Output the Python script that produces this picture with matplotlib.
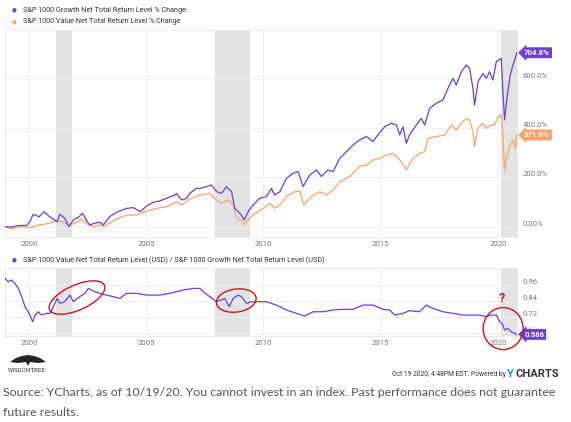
import matplotlib
matplotlib.use("agg")

import matplotlib.pyplot as plt
from matplotlib.patches import Ellipse, Polygon
from matplotlib.transforms import IdentityTransform, blended_transform_factory

plt.rcParams["font.family"] = ["Roboto", "DejaVu Sans"]

# Growth index, % change since Jan 1999
g_years = [1998.98, 1999.28, 1999.49, 1999.74, 1999.9, 2000.04, 2000.18, 2000.44, 2000.65,
           2000.87, 2000.97, 2001.2, 2001.32, 2001.53, 2001.7, 2001.92, 2002.1, 2002.29,
           2002.49, 2002.6, 2002.81, 2003.03, 2003.17, 2003.45, 2003.8, 2004.16, 2004.45,
           2004.73, 2005.09, 2005.37, 2005.58, 2005.87, 2006.22, 2006.29, 2006.5, 2006.72,
           2006.86, 2007.14, 2007.29, 2007.57, 2007.78, 2008.0, 2008.21, 2008.42, 2008.64,
           2008.78, 2008.92, 2009.06, 2009.18, 2009.35, 2009.56, 2009.84, 2010.13, 2010.34,
           2010.48, 2010.7, 2010.98, 2011.26, 2011.48, 2011.69, 2011.97, 2012.26, 2012.47,
           2012.75, 2012.97, 2013.25, 2013.54, 2013.82, 2014.1, 2014.39, 2014.67, 2014.88,
           2015.17, 2015.45, 2015.67, 2015.81, 2015.95, 2016.09, 2016.23, 2016.52, 2016.73,
           2016.87, 2017.09, 2017.37, 2017.65, 2017.87, 2018.08, 2018.22, 2018.44, 2018.65,
           2018.79, 2018.93, 2019.0, 2019.15, 2019.36, 2019.5, 2019.64, 2019.78, 2019.93,
           2020.14, 2020.21, 2020.28, 2020.38, 2020.52, 2020.64, 2020.71, 2020.8]
g_vals = [0, -2, 4, 5, 4, 20, 50, 40, 61,
          41, 35, 20, 50, 34, 0, 30, 37, 54,
          20, 7, 14, 18, 7, 41, 61, 74, 77,
          61, 88, 101, 104, 115, 128, 135, 108, 115,
          135, 155, 155, 162, 169, 142, 135, 162, 142,
          74, 61, 47, 27, 61, 88, 115, 122, 155,
          128, 142, 196, 216, 223, 162, 209, 230, 203,
          230, 223, 277, 304, 331, 351, 365, 345, 372,
          405, 419, 412, 372, 405, 338, 372, 412, 439,
          412, 480, 500, 513, 561, 601, 574, 628, 655,
          642, 561, 493, 588, 621, 601, 628, 594, 669,
          682, 547, 432, 520, 615, 655, 676, 704.8]

# Value index, % change since Jan 1999
v_years = [1998.98, 1999.28, 1999.6, 2000.0, 2000.47, 2000.9, 2001.2, 2001.46, 2001.7,
           2002.03, 2002.29, 2002.53, 2002.74, 2003.03, 2003.2, 2003.52, 2003.88, 2004.23,
           2004.59, 2005.01, 2005.44, 2005.87, 2006.29, 2006.5, 2006.93, 2007.29, 2007.71,
           2008.0, 2008.21, 2008.49, 2008.71, 2008.85, 2009.06, 2009.18, 2009.35, 2009.63,
           2009.99, 2010.27, 2010.48, 2010.7, 2010.98, 2011.33, 2011.55, 2011.72, 2012.04,
           2012.4, 2012.68, 2012.97, 2013.25, 2013.68, 2014.1, 2014.39, 2014.67, 2014.96,
           2015.24, 2015.52, 2015.74, 2015.88, 2016.09, 2016.38, 2016.66, 2016.87, 2017.02,
           2017.37, 2017.73, 2018.01, 2018.22, 2018.44, 2018.65, 2018.79, 2018.93, 2019.0,
           2019.15, 2019.36, 2019.5, 2019.71, 2019.86, 2020.0, 2020.14, 2020.21, 2020.28,
           2020.38, 2020.52, 2020.67, 2020.74, 2020.8]
v_vals = [0, -9, 0, -3, 7, 14, 23, 20, 3,
          18, 31, 7, 0, 7, 0, 20, 37, 47,
          47, 64, 74, 81, 101, 88, 115, 128, 135,
          108, 95, 108, 88, 34, 27, 7, 27, 54,
          74, 95, 74, 88, 122, 142, 142, 88, 122,
          142, 128, 149, 182, 203, 245, 250, 270, 277,
          290, 297, 277, 263, 230, 277, 297, 304, 358,
          365, 372, 412, 392, 419, 439, 432, 385, 324,
          399, 419, 399, 412, 412, 446, 453, 372, 230,
          284, 331, 351, 317, 371.6]

# Value / Growth total return level ratio
r_years = [1998.98, 1999.12, 1999.26, 1999.4, 1999.55, 1999.69, 1999.83, 1999.97, 2000.07,
           2000.16, 2000.26, 2000.4, 2000.54, 2000.75, 2000.9, 2001.04, 2001.21, 2001.32,
           2001.53, 2001.75, 2001.89, 2002.17, 2002.39, 2002.53, 2002.67, 2002.81, 2003.03,
           2003.31, 2003.59, 2003.88, 2004.16, 2004.59, 2005.01, 2005.58, 2006.01, 2006.58,
           2007.0, 2007.29, 2007.43, 2007.71, 2007.99, 2008.21, 2008.35, 2008.54, 2008.71,
           2008.92, 2009.06, 2009.28, 2009.49, 2009.7, 2010.13, 2010.55, 2010.98, 2011.4,
           2011.76, 2012.12, 2012.54, 2012.97, 2013.39, 2013.82, 2014.25, 2014.67, 2015.1,
           2015.38, 2015.6, 2015.95, 2016.23, 2016.66, 2016.94, 2017.23, 2017.65, 2018.08,
           2018.51, 2018.93, 2019.22, 2019.5, 2019.71, 2019.93, 2020.07, 2020.18, 2020.28,
           2020.42, 2020.56, 2020.71, 2020.8]
r_vals = [1.006, 0.981, 0.994, 0.969, 0.931, 0.869, 0.794, 0.756, 0.719,
          0.681, 0.731, 0.756, 0.731, 0.744, 0.744, 0.794, 0.856, 0.819,
          0.831, 0.881, 0.831, 0.869, 0.894, 0.931, 0.919, 0.906, 0.894,
          0.881, 0.869, 0.856, 0.894, 0.894, 0.881, 0.881, 0.894, 0.919,
          0.931, 0.931, 0.906, 0.869, 0.831, 0.844, 0.856, 0.794, 0.856,
          0.881, 0.869, 0.819, 0.831, 0.831, 0.831, 0.806, 0.769, 0.744,
          0.724, 0.756, 0.756, 0.769, 0.774, 0.774, 0.806, 0.806, 0.774,
          0.769, 0.731, 0.744, 0.764, 0.756, 0.806, 0.781, 0.756, 0.744,
          0.731, 0.731, 0.731, 0.719, 0.731, 0.731, 0.681, 0.669, 0.619,
          0.631, 0.606, 0.594, 0.586]

recessions = [(2001.15, 2001.82), (2007.93, 2009.42), (2020.12, 2020.81)]
year_ticks = [2000, 2005, 2010, 2015, 2020]
top_ticks = [0, 200, 400, 600]
top_labels = ["0.00%", "200.0%", "400.0%", "600.0%"]
bot_ticks = [0.60, 0.72, 0.84, 0.96]
bot_labels = ["0.60", "0.72", "0.84", "0.96"]

PURPLE = "#6a3fd3"
ORANGE = "#ffa068"
SHADE = "#e2e2e2"
GRID = "#eeeeee"
TICK = "#777777"

W, H = 571, 422
fig = plt.figure(figsize=(W / 100, H / 100), dpi=100)


def px_axes(left, top, right, bottom):
    return fig.add_axes([left / W, 1 - bottom / H, (right - left) / W, (bottom - top) / H])


def style(ax, ticks, labels):
    ax.set_xlim(1998.98, 2020.81)
    ax.set_xticks(year_ticks)
    ax.set_xticklabels([str(y) for y in year_ticks])
    ax.set_yticks(ticks)
    ax.set_yticklabels(labels)
    ax.yaxis.tick_right()
    ax.tick_params(length=0, labelsize=5.6, colors=TICK, pad=3)
    ax.tick_params(axis="y", pad=4)
    for lab in ax.get_yticklabels():
        lab.set_verticalalignment("bottom")
    ax.grid(True, color=GRID, linewidth=0.6)
    ax.set_axisbelow(True)
    for s in ax.spines.values():
        s.set_color("#e8e8e8")
        s.set_linewidth(0.6)
    for a, b in recessions:
        ax.axvspan(a, b, color=SHADE, linewidth=0, zorder=0.5)


# Top panel: % change
ax1 = px_axes(5, 30, 517, 237)
ax1.plot(v_years, v_vals, color=ORANGE, linewidth=0.9, zorder=2)
ax1.plot(g_years, g_vals, color=PURPLE, linewidth=0.9, zorder=3)
ax1.set_ylim(-42, 797)
style(ax1, top_ticks, top_labels)

# Bottom panel: ratio
ax2 = px_axes(5, 268, 517, 336)
ax2.plot(r_years, r_vals, color=PURPLE, linewidth=0.9, zorder=3)
ax2.set_ylim(0.574, 1.084)
style(ax2, bot_ticks, bot_labels)
# the end tag covers most of the lowest label, as in the original
ax2.get_yticklabels()[0].set_alpha(0.35)


def end_tag(ax, value, text, color):
    tr = blended_transform_factory(ax.transAxes, ax.transData)
    ax.text(1.014, value, text, transform=tr, ha="left", va="center", fontsize=5.6,
            fontweight="bold", color="white", clip_on=False, zorder=6,
            bbox=dict(boxstyle="larrow,pad=0.25", fc=color, ec=color, lw=0))


end_tag(ax1, g_vals[-1], "704.8%", PURPLE)
end_tag(ax1, v_vals[-1], "371.6%", ORANGE)
end_tag(ax2, r_vals[-1], "0.586", PURPLE)

# Legends
fig.text(14 / W, 1 - 10 / H, "\u25CF", color=PURPLE, fontsize=4, ha="center", va="center")
fig.text(23 / W, 1 - 10 / H, "S&P 1000 Growth Net Total Return Level % Change",
         fontsize=5.2, color="#333333", va="center")
fig.text(14 / W, 1 - 21.5 / H, "\u25CF", color=ORANGE, fontsize=4, ha="center", va="center")
fig.text(23 / W, 1 - 21.5 / H, "S&P 1000 Value Net Total Return Level % Change",
         fontsize=5.2, color="#333333", va="center")
fig.text(14 / W, 1 - 260 / H, "\u25CF", color=PURPLE, fontsize=4, ha="center", va="center")
fig.text(23 / W, 1 - 260 / H,
         "S&P 1000 Value Net Total Return Level (USD) / S&P 1000 Growth Net Total Return Level (USD)",
         fontsize=5.2, color="#333333", va="center")

# Red annotation ellipses, sized in pixels, centred on data points
RED = "#c8161d"
for year, val, w, h, ang in [(2002.05, 0.8625, 60, 25, 24), (2008.84, 0.84, 40, 23, 8),
                             (2020.22, 0.63, 40, 42, 0)]:
    cx, cy = ax2.transData.transform((year, val))
    fig.add_artist(Ellipse((cx, cy), w, h, angle=ang, fill=False, ec=RED, lw=1.0,
                           transform=IdentityTransform(), zorder=10))
fig.text(502 / W, 1 - 298 / H, "?", color=RED, fontsize=9, fontweight="bold",
         ha="center", va="center")

# WisdomTree mark
tree = Polygon([(10, 362), (16, 358), (22, 356), (28, 355), (34, 356), (40, 358), (46, 362),
                (38, 363), (30, 362), (28, 366), (26, 362), (18, 363)],
               closed=True, fc="#222222", ec="none")
tree.set_transform(IdentityTransform())
tree.set_xy([(x, H - y) for x, y in tree.get_xy()])
fig.add_artist(tree)
fig.text(8 / W, 1 - 371 / H, "WISDOMTREE", fontsize=3.6, family="DejaVu Serif",
         color="#222222", va="center")

# Footer
fig.text(507 / W, 1 - 374 / H, "Oct 19 2020, 4:48PM EDT. Powered by ", fontsize=4.9,
         color="#333333", ha="right", va="center")
fig.text(507 / W, 1 - 374 / H, "Y", fontsize=8, color="#1e9be0", fontweight="bold",
         ha="left", va="center")
fig.text(516 / W, 1 - 374 / H, "CHARTS", fontsize=8, color="#333333", fontweight="bold",
         ha="left", va="center")
fig.text(3 / W, 1 - 393 / H,
         "Source: YCharts, as of 10/19/20. You cannot invest in an index. Past performance does not guarantee",
         fontsize=8.9, color="#555555", family=["Lato", "DejaVu Sans"], va="center")
fig.text(3 / W, 1 - 412 / H, "future results.", fontsize=8.9, color="#555555",
         family=["Lato", "DejaVu Sans"], va="center")

fig.savefig("out.png", dpi=100)
